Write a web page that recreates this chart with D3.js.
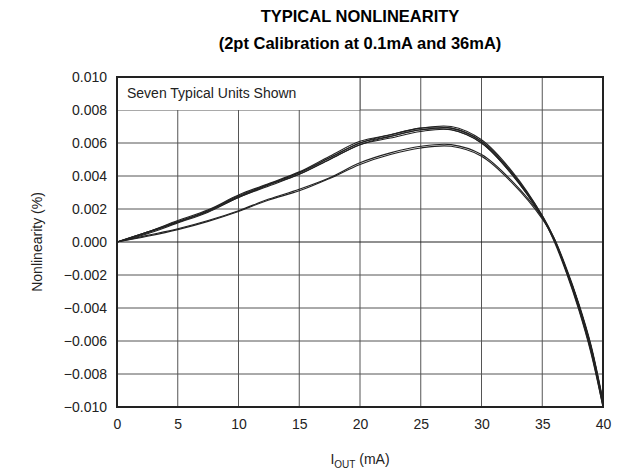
<!DOCTYPE html>
<html><head><meta charset="utf-8">
<script src="https://cdn.jsdelivr.net/npm/d3@7"></script>
<style>body{margin:0;background:#fff}text{font-family:"Liberation Sans",Arial,sans-serif}</style>
</head><body><svg id="c" width="617" height="476"></svg>
<script>
const currents = [0, 2.5, 5, 7.5, 10, 12.5, 15, 17.5, 20, 22.5, 25, 27.5, 30, 32.5, 35, 36, 37, 38, 39, 40];
const unitA = [0, 0.0006, 0.00125, 0.0019, 0.0028, 0.0035, 0.0042, 0.0051, 0.0060, 0.0065, 0.0069, 0.0069, 0.0061, 0.0042, 0.0015, 0.0001, -0.0018, -0.0039, -0.0065, -0.0099];
const unitB = [0, 0.00055, 0.0012, 0.00185, 0.0027, 0.00345, 0.0041, 0.0050, 0.0059, 0.0064, 0.0068, 0.0068, 0.0060, 0.0041, 0.0015, 0.0001, -0.0018, -0.0040, -0.0066, -0.0100];
const unitC = [0, 0.0006, 0.0013, 0.00195, 0.00285, 0.00355, 0.00425, 0.0052, 0.0061, 0.0065, 0.0069, 0.0070, 0.0062, 0.0043, 0.0016, 0.0001, -0.0017, -0.0038, -0.0064, -0.0098];
const unitD = [0, 0.0005, 0.00115, 0.0018, 0.0027, 0.0034, 0.0041, 0.0050, 0.0059, 0.0063, 0.0067, 0.0068, 0.0060, 0.0041, 0.0015, 0.0000, -0.0019, -0.0041, -0.0067, -0.0100];
const unitE = [0, 0.0006, 0.0012, 0.0019, 0.00275, 0.0035, 0.0042, 0.0051, 0.0060, 0.0064, 0.0068, 0.0069, 0.0061, 0.0042, 0.0016, 0.0002, -0.0017, -0.0038, -0.0063, -0.0097];
const unitF = [0, 0.0004, 0.0008, 0.0013, 0.0019, 0.0026, 0.0032, 0.0039, 0.0048, 0.0054, 0.0058, 0.0059, 0.0053, 0.0037, 0.0015, 0.0002, -0.0016, -0.0037, -0.0062, -0.0096];
const unitG = [0, 0.00035, 0.00075, 0.00125, 0.00185, 0.00255, 0.0031, 0.00385, 0.0047, 0.0053, 0.0057, 0.0058, 0.0052, 0.0036, 0.0014, 0.0001, -0.0017, -0.0038, -0.0063, -0.0097];
const units = [unitA, unitB, unitC, unitD, unitE, unitF, unitG];
const xTicks = [0, 5, 10, 15, 20, 25, 30, 35, 40];
const yTicks = [-0.010, -0.008, -0.006, -0.004, -0.002, 0, 0.002, 0.004, 0.006, 0.008, 0.010];

const M = { top: 77, left: 117, right: 14, bottom: 69 };
const W = 617 - M.left - M.right, H = 476 - M.top - M.bottom;
const svg = d3.select('#c');
const g = svg.append('g').attr('transform', `translate(${M.left},${M.top})`);
const x = d3.scaleLinear().domain([0, 40]).range([0, W]);
const y = d3.scaleLinear().domain([-0.010, 0.010]).range([H, 0]);

g.selectAll('.gx').data(xTicks).enter().append('line')
  .attr('x1', d => x(d)).attr('x2', d => x(d)).attr('y1', 0).attr('y2', H)
  .attr('stroke', '#555').attr('stroke-width', 1);
g.selectAll('.gy').data(yTicks).enter().append('line')
  .attr('y1', d => y(d)).attr('y2', d => y(d)).attr('x1', 0).attr('x2', W)
  .attr('stroke', d => d === 0 ? '#222' : '#555').attr('stroke-width', d => d === 0 ? 1.2 : 1);

// label box
g.append('rect').attr('x', 1).attr('y', 1).attr('width', x(20) - 1).attr('height', y(0.008) - 1).attr('fill', '#fff');
g.append('line').attr('x1', x(20)).attr('x2', x(20)).attr('y1', 0).attr('y2', y(0.008)).attr('stroke', '#555');
g.append('text').attr('x', 10).attr('y', 21).attr('font-size', 14).attr('fill', '#222').text('Seven Typical Units Shown');

const line = d3.line().x((d, i) => x(currents[i])).y(d => y(d)).curve(d3.curveCatmullRom);
g.selectAll('.u').data(units).enter().append('path')
  .attr('d', line).attr('fill', 'none').attr('stroke', '#222').attr('stroke-width', 1.1);

g.append('rect').attr('width', W).attr('height', H).attr('fill', 'none').attr('stroke', '#222').attr('stroke-width', 2);

const ax = g.append('g').attr('transform', `translate(0,${H})`)
  .call(d3.axisBottom(x).tickValues(xTicks).tickSize(0).tickPadding(12));
const ay = g.append('g')
  .call(d3.axisLeft(y).tickValues(yTicks).tickSize(0).tickPadding(10)
    .tickFormat(d => (d < 0 ? '\u2212' : '') + Math.abs(d).toFixed(3)));
[ax, ay].forEach(a => { a.select('.domain').remove(); a.selectAll('text').attr('font-size', 14).attr('fill', '#222').style('font-family', '"Liberation Sans",Arial,sans-serif'); });

svg.append('text').attr('x', M.left + W / 2).attr('y', 22).attr('text-anchor', 'middle')
  .attr('font-size', 16.5).attr('font-weight', 'bold').text('TYPICAL NONLINEARITY');
svg.append('text').attr('x', M.left + W / 2).attr('y', 49).attr('text-anchor', 'middle')
  .attr('font-size', 16.5).attr('font-weight', 'bold').text('(2pt Calibration at 0.1mA and 36mA)');
svg.append('text').attr('transform', `translate(42,${M.top + H / 2}) rotate(-90)`).attr('text-anchor', 'middle')
  .attr('font-size', 14).attr('fill', '#222').text('Nonlinearity (%)');
const xl = svg.append('text').attr('x', M.left + W / 2).attr('y', 464).attr('text-anchor', 'middle')
  .attr('font-size', 14).attr('fill', '#222');
xl.append('tspan').text('I');
xl.append('tspan').attr('font-size', 10).attr('dy', 4).text('OUT');
xl.append('tspan').attr('dy', -4).text(' (mA)');
</script></body></html>
